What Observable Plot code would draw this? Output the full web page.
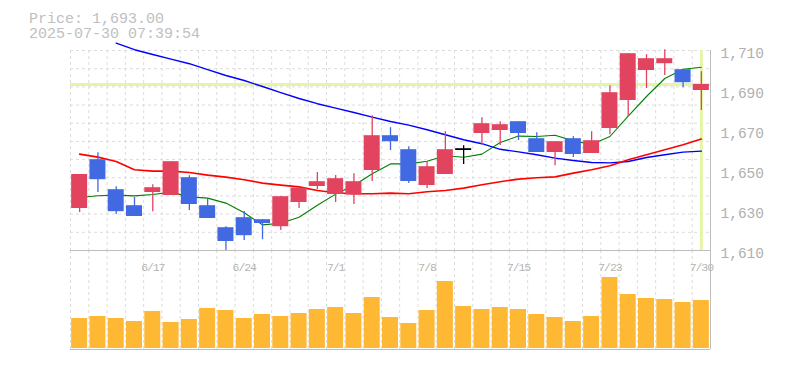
<!DOCTYPE html>
<html>
<head>
<meta charset="utf-8">
<script src="https://cdn.jsdelivr.net/npm/d3@7"></script>
<script src="https://cdn.jsdelivr.net/npm/@observablehq/plot@0.6"></script>
<style>
html, body { margin: 0; padding: 0; background: #fff; }
#chart { position: relative; width: 785px; height: 370px; font-family: "Liberation Mono", monospace; }
#hdr { position: absolute; left: 29px; top: 11.5px; color: #c0c0c0; font-size: 15px; line-height: 15px; white-space: pre; }
#vol, #price { position: absolute; left: 0; }
#price { top: 0; }
#vol { top: 250px; }
</style>
</head>
<body>
<div id="chart"><div id="vol"></div><div id="price"></div><div id="hdr"></div></div>
<script>
// ---- data ----
const dates = ["6/11","6/12","6/13","6/16","6/17","6/18","6/19","6/20","6/23","6/24",
  "6/25","6/26","6/27","6/30","7/1","7/2","7/3","7/4","7/7","7/8",
  "7/9","7/10","7/11","7/14","7/15","7/16","7/17","7/18","7/22","7/23",
  "7/24","7/25","7/28","7/29","7/30"];
const open  = [1631,1655.4,1640.4,1632.4,1639,1637.5,1646.4,1632.4,1621.4,1626.4,
  1625.4,1621.9,1634,1642,1638,1637.7,1650,1667.4,1660.4,1642.5,
  1648,1660.7,1668.5,1670,1674.4,1665.9,1659,1665.9,1658.5,1671,
  1685,1700,1703.4,1700.4,1690];
const high  = [1648,1658.9,1641.9,1636.5,1642.9,1654.4,1647.4,1636,1621.9,1629.5,
  1625.4,1637,1641.2,1649,1647.5,1648.4,1677.4,1671.4,1661.9,1654.5,
  1669.4,1662.4,1676.4,1674.4,1674.4,1668.9,1664.4,1666.9,1669.4,1692.4,
  1708.4,1707.9,1710.4,1700.4,1699.4];
const low   = [1629,1639,1628,1627,1629.4,1637.5,1630,1626,1610,1615,
  1615.4,1620,1631,1640.4,1634,1633,1644.5,1660,1643.5,1641,
  1648,1653,1663,1662.5,1665,1659,1652.4,1656.5,1658.5,1667.9,
  1677,1691,1697.5,1691.4,1680];
const close = [1648,1645.4,1629.4,1627,1641.4,1654.4,1633,1626,1614.5,1617.4,
  1623.5,1636.9,1641.2,1644.4,1645.9,1644.4,1667.4,1664.4,1644.5,1651.9,
  1660.4,1660.7,1673.4,1672.9,1668.5,1659,1664.4,1658,1664.9,1688.9,
  1708.4,1705.9,1705.9,1693.9,1693];
const volume = [310,330,310,280,380,270,300,410,390,310,
  350,330,360,400,420,360,520,320,260,390,
  680,430,400,420,400,350,320,280,330,720,
  550,510,500,470,490];
const ma5  = [1636.5,1637.4,1637.7,1637.3,1638,1639.2,1636.8,1636.2,1633.7,1628.9,
  1622.8,1623.6,1626.6,1632.6,1638.2,1642.5,1648.4,1653.3,1653.3,1654.6,
  1657.4,1656.6,1658.2,1664,1667.2,1667,1667.6,1664.8,1663,1667,
  1677.2,1687,1696,1700.6,1701.6];
const ma25 = [1658.2,1656.7,1654.5,1650.4,1649.7,1649.7,1649,1647.7,1646.7,1645.4,
  1643.7,1642.7,1641.8,1640,1638.9,1638.4,1638.4,1638.7,1638.4,1639.4,
  1640,1641.2,1642.9,1644.4,1645.7,1646.4,1646.8,1648.7,1650.4,1652.4,
  1655.4,1657.9,1660.4,1662.9,1665.7];
const ma75 = [null,null,1713.7,1710.4,1708,1705.7,1703.4,1700.4,1697.5,1695,
  1692,1688.9,1686,1683.4,1681.2,1679,1676.7,1674.5,1672.7,1670.4,
  1667.9,1665.4,1663.4,1660.6,1659.3,1657.9,1656.2,1655,1654,1653.8,
  1654.5,1656.5,1657.9,1659.2,1659.7];
const lastPrice = 1693.00;
const timestamp = "2025-07-30 07:39:54";
const priceTicks = [1610, 1630, 1650, 1670, 1690, 1710];
const dateTicks = ["6/17", "6/24", "7/1", "7/8", "7/15", "7/23", "7/30"];

// ---- styles ----
const upColor = "#e2435f", downColor = "#4169e1", flatColor = "#000000";
const volColor = "#ffb833", gridColor = "#dcdcdc", borderColor = "#bdbdbd", markerColor = "#e4f5a6";
const half = 0.4375;

const rows = dates.map((date, i) => ({
  i, date, open: open[i], high: high[i], low: low[i], close: close[i],
  volume: volume[i], ma5: ma5[i], ma25: ma25[i], ma75: ma75[i]
}));
const candleColor = d => d.close > d.open ? upColor : d.close < d.open ? downColor : flatColor;
const xDomain = [-0.5, dates.length - 0.5];
const cellEdges = d3.range(dates.length).map(i => i - 0.5);
const yDomain = [priceTicks[0], priceTicks[priceTicks.length - 1]];
const hGrid = d3.range(11).map(k => yDomain[1] - k * (yDomain[1] - yDomain[0]) / 11);

document.getElementById("hdr").textContent =
  "Price: " + d3.format(",.2f")(lastPrice) + "\n" + timestamp;

const price = Plot.plot({
  width: 785, height: 262,
  marginLeft: 70, marginRight: 75, marginTop: 50, marginBottom: 12,
  style: { background: "transparent", fontFamily: "Liberation Mono, monospace", overflow: "visible" },
  x: { type: "linear", domain: xDomain, axis: null },
  y: { type: "linear", domain: yDomain },
  marks: [
    Plot.ruleY(hGrid, { stroke: gridColor, strokeDasharray: "3,3" }),
    Plot.ruleX(cellEdges, { stroke: gridColor, strokeDasharray: "3,3" }),
    Plot.ruleY([lastPrice], { stroke: markerColor, strokeWidth: 3 }),
    Plot.ruleX([dates.length - 1], { stroke: markerColor, strokeWidth: 3 }),
    Plot.ruleX([xDomain[1]], { stroke: borderColor }),
    Plot.ruleY([yDomain[0]], { stroke: borderColor }),
    Plot.line(rows, { x: "i", y: "ma75", stroke: "#0000ff", strokeWidth: 1.4 }),
    Plot.line(rows, { x: "i", y: "ma25", stroke: "#ff0000", strokeWidth: 1.6 }),
    Plot.line(rows, { x: "i", y: "ma5", stroke: "#008000", strokeWidth: 1.1 }),
    Plot.ruleX(rows, { x: "i", y1: "low", y2: "high", stroke: candleColor, strokeWidth: 1.3 }),
    Plot.rect(rows.filter(d => d.open !== d.close), {
      x1: d => d.i - half, x2: d => d.i + half, y1: "open", y2: "close", fill: candleColor
    }),
    Plot.ruleY(rows.filter(d => d.open === d.close), {
      y: "close", x1: d => d.i - half, x2: d => d.i + half, stroke: flatColor, strokeWidth: 1.8
    }),
    Plot.axisY(priceTicks, {
      anchor: "right", tickSize: 0, tickPadding: 10, tickFormat: d3.format(","),
      fontSize: 14.5, dy: 2.5, color: "#b0b0b0"
    })
  ]
});
document.getElementById("price").appendChild(price);

const vol = Plot.plot({
  width: 785, height: 100,
  marginLeft: 70, marginRight: 75, marginTop: 0, marginBottom: 1,
  style: { background: "transparent", fontFamily: "Liberation Mono, monospace", letterSpacing: "-1.1px", overflow: "visible" },
  x: { type: "linear", domain: xDomain, axis: null },
  y: { type: "linear", domain: [0, 990], axis: null },
  marks: [
    Plot.ruleX(cellEdges, { stroke: gridColor, strokeDasharray: "3,3" }),
    Plot.rect(rows, { x1: d => d.i - half, x2: d => d.i + half, y1: 0, y2: "volume", fill: volColor, insetBottom: 1 }),
    Plot.ruleX([xDomain[1]], { stroke: borderColor }),
    Plot.ruleY([0], { stroke: borderColor }),
    Plot.text(dateTicks, {
      x: d => dates.indexOf(d), text: d => d, frameAnchor: "top", dy: 12.5,
      fontSize: 11.5, fill: "#b4b4b4"
    })
  ]
});
document.getElementById("vol").appendChild(vol);
</script>
</body>
</html>
